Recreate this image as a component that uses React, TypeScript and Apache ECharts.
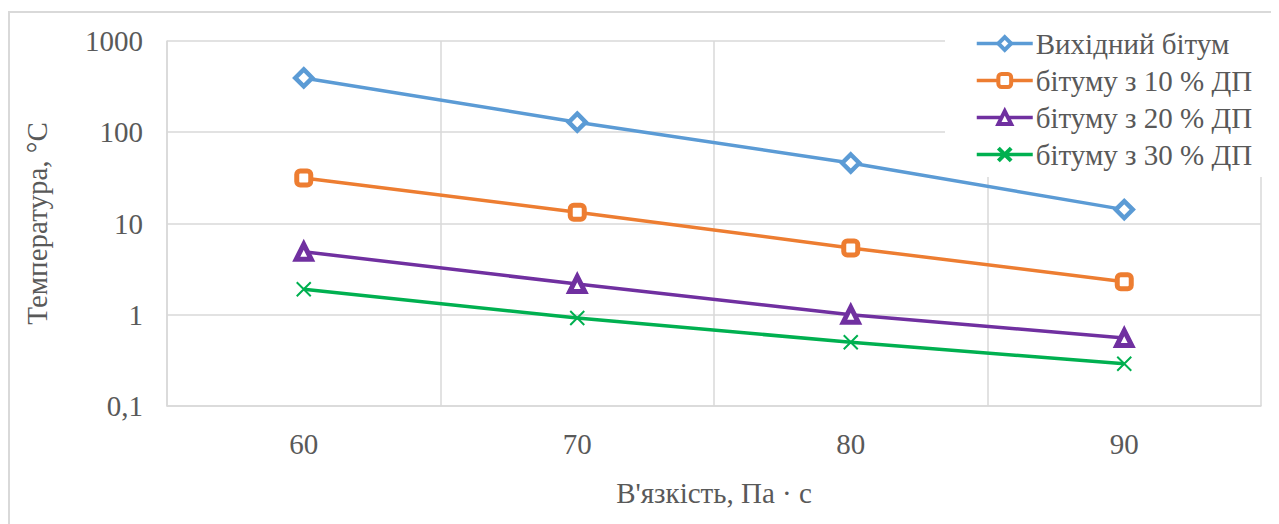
import React, { useEffect, useRef } from "react";
import * as echarts from "echarts";

const categories = ["60", "70", "80", "90"];
const seriesNames = ["Вихідний бітум", "бітуму з 10 % ДП", "бітуму з 20 % ДП", "бітуму з 30 % ДП"];
const base = [394, 129, 46, 14.2];
const dp10 = [31.5, 13.3, 5.4, 2.3];
const dp20 = [4.9, 2.17, 1.0, 0.556];
const dp30 = [1.9, 0.92, 0.5, 0.29];
const yTicks = [0.1, 1, 10, 100, 1000];

const colors = ["#5b9bd5", "#ed7d31", "#7030a0", "#00b050"];
const FONT = "Liberation Serif";
const FS = 29;
const TXT = "#595959";

export default function App() {
  const ref = useRef<HTMLDivElement>(null);
  useEffect(() => {
    if (!ref.current) return;
    const chart = echarts.init(ref.current, null, { renderer: "svg" });
    const mk = (name: string, data: number[], color: string, symbol: string, size: number, bw: number) => ({
      name,
      type: "line",
      data,
      symbol,
      symbolSize: size,
      showSymbol: true,
      lineStyle: { color, width: 3.5 },
      itemStyle: symbol.startsWith("path")
        ? { color: color, borderColor: color, borderWidth: bw }
        : { color: "#ffffff", borderColor: color, borderWidth: bw },
      color,
      z: 3,
    });
    chart.setOption({
      animation: false,
      backgroundColor: "#ffffff",
      textStyle: { fontFamily: FONT },
      graphic: [
        {
          type: "rect",
          shape: { x: 1, y: 4, width: 1400, height: 700 },
          style: { fill: "none", stroke: "#d9d9d9", lineWidth: 2 },
          silent: true,
          z: -10,
        },
      ],
      grid: { left: 159, top: 33, width: 1094, height: 365, containLabel: false },
      legend: {
        left: 937,
        top: 13,
        orient: "vertical",
        backgroundColor: "#ffffff",
        padding: [8, 24, 8, 30],
        itemWidth: 56,
        itemHeight: 16,
        itemGap: 8,
        lineStyle: { width: 3.5 },
        itemStyle: { borderWidth: 4 },
        textStyle: { fontFamily: FONT, fontSize: FS, color: TXT, padding: [0, 0, 0, -2] },
        data: seriesNames,
        z: 10,
      },
      xAxis: {
        type: "category",
        data: categories,
        boundaryGap: true,
        axisLine: { show: true, lineStyle: { color: "#d9d9d9", width: 1.5 } },
        axisTick: { show: false },
        splitLine: { show: true, lineStyle: { color: "#d9d9d9", width: 1.5 } },
        axisLabel: { fontFamily: FONT, fontSize: FS, color: TXT, margin: 23 },
        name: "В'язкість, Па · с",
        nameLocation: "middle",
        nameGap: 72,
        nameTextStyle: { fontFamily: FONT, fontSize: FS, color: TXT },
      },
      yAxis: {
        type: "log",
        logBase: 10,
        min: yTicks[0],
        max: yTicks[yTicks.length - 1],
        axisLine: { show: true, lineStyle: { color: "#d9d9d9", width: 1.5 } },
        axisTick: { show: false },
        splitLine: { show: true, lineStyle: { color: "#d9d9d9", width: 1.5 } },
        axisLabel: {
          fontFamily: FONT,
          fontSize: FS,
          color: TXT,
          margin: 24,
          formatter: (v: number) => String(v).replace(".", ","),
        },
        name: "Температура, °C",
        nameLocation: "middle",
        nameGap: 116,
        nameRotate: 90,
        nameTextStyle: { fontFamily: FONT, fontSize: FS, color: TXT },
      },
      series: [
        mk(seriesNames[0], base, colors[0], "diamond", 17, 4.5),
        mk(seriesNames[1], dp10, colors[1], "roundRect", 14, 5),
        mk(seriesNames[2], dp20, colors[2], "triangle", 15, 5),
        mk(seriesNames[3], dp30, colors[3], "path://M0,0L10,10M10,0L0,10", 14, 2),
      ],
    });
    return () => chart.dispose();
  }, []);
  return <div ref={ref} style={{ width: 1271, height: 516 }} />;
}
